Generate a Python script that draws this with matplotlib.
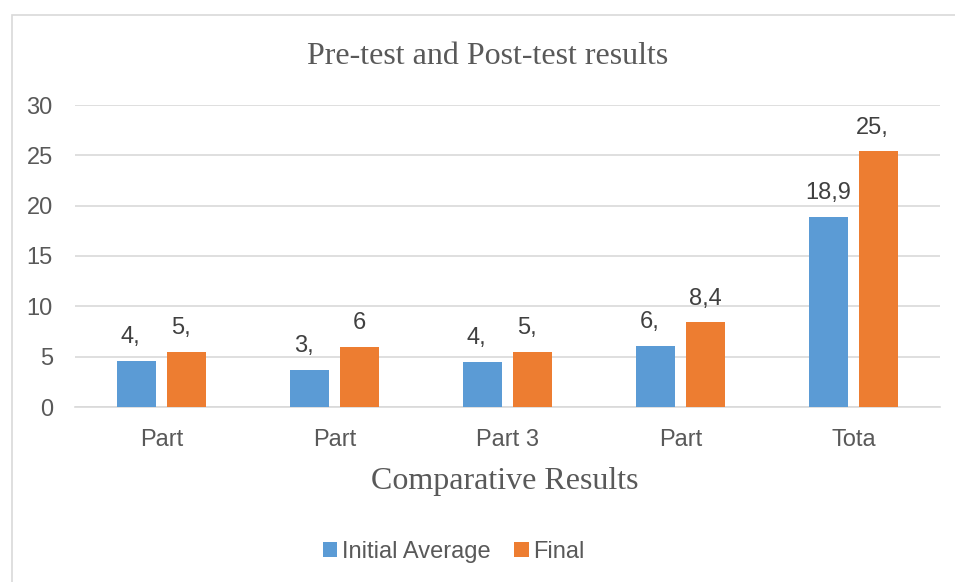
import matplotlib.pyplot as plt
import numpy as np
from matplotlib.patches import Rectangle

# data
categories = ['Part', 'Part', 'Part 3', 'Part', 'Tota']
initial = [4.6, 3.7, 4.5, 6.1, 18.9]
final = [5.5, 6.0, 5.5, 8.4, 25.4]
initial_labels = ['4,', '3,', '4,', '6,', '18,9']
final_labels = ['5,', '6', '5,', '8,4', '25,']
yticks = [0, 5, 10, 15, 20, 25, 30]

BLUE = '#5B9BD5'
ORANGE = '#ED7D31'
GRID = '#D9D9D9'
TXT = '#595959'

fig = plt.figure(figsize=(9.55, 5.82), dpi=100)
ax = fig.add_axes([75/955, 1-407/582, 865/955, 302/582])

# outer chart border
fig.patches.append(Rectangle((12/955, -0.01), 1.0, 1-15/582+0.01, transform=fig.transFigure,
                             fill=False, edgecolor=GRID, linewidth=1.2))

x = np.arange(len(categories))
w = 0.226
b1 = ax.bar(x - 0.144, initial, w, color=BLUE, label='Initial Average', zorder=3)
b2 = ax.bar(x + 0.144, final, w, color=ORANGE, label='Final', zorder=3)

for bars, labels in [(b1, initial_labels), (b2, final_labels)]:
    for rect, lab in zip(bars, labels):
        # cut-off labels sit where the full number would have been centred
        dx = -4.3 if lab.endswith(',') else 0
        ax.annotate(lab, (rect.get_x() + rect.get_width()/2, rect.get_height()),
                    xytext=(dx, 9), textcoords='offset points', ha='center', va='bottom',
                    fontsize=17, color='#404040', family='Liberation Sans')

ax.set_xlim(-0.5, len(categories) - 0.5)
ax.set_ylim(0, 30)
ax.set_yticks(yticks)
ax.set_xticks(x)
ax.set_xticklabels(categories)
ax.yaxis.grid(True, color=GRID, linewidth=1.2, zorder=0)
ax.set_axisbelow(True)
for s in ['top', 'right', 'left']:
    ax.spines[s].set_visible(False)
ax.spines['bottom'].set_color(GRID)
ax.spines['bottom'].set_linewidth(1.2)
ax.tick_params(axis='both', length=0, labelsize=17, labelcolor=TXT)
ax.tick_params(axis='x', pad=16)
ax.tick_params(axis='y', pad=16)
for t in ax.get_xticklabels() + ax.get_yticklabels():
    t.set_family('Liberation Sans')

fig.text(488/955, 1-57/582, 'Pre-test and Post-test results', ha='center', va='center',
         fontsize=23, color=TXT, family='Liberation Serif')
fig.text(505/955, 1-481/582, 'Comparative Results', ha='center', va='center',
         fontsize=23, color=TXT, family='Liberation Serif')

leg = fig.legend(loc='center', bbox_to_anchor=(454/955, 1-552/582), ncol=2, frameon=False,
                 handlelength=0.6, handleheight=0.6, handletextpad=0.2,
                 columnspacing=1.0, prop={'family': 'Liberation Sans', 'size': 17})
for t in leg.get_texts():
    t.set_color(TXT)

fig.savefig('out.png', dpi=100)
